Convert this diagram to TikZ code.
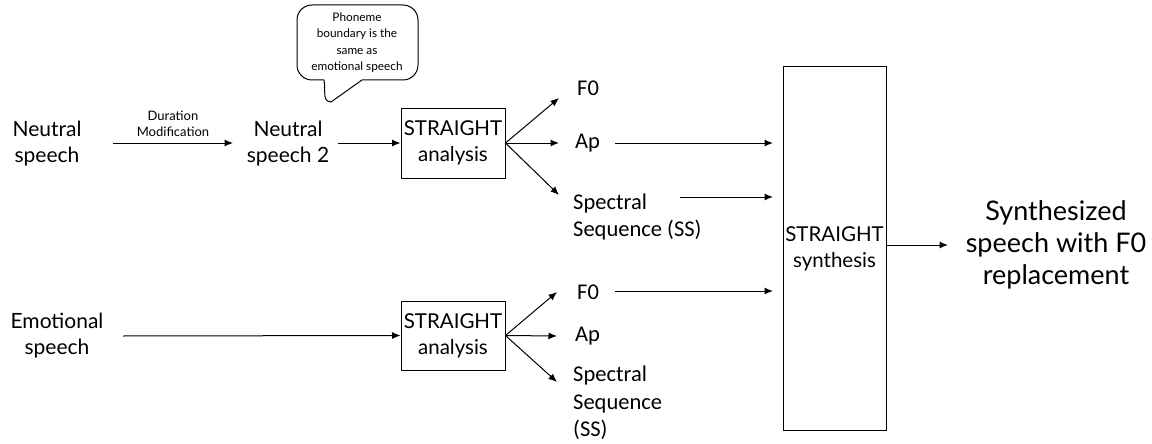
\documentclass[tikz,border=0pt]{standalone}
\usepackage{fontspec}
\setmainfont{Lato}
\newfontfamily\cfont{Carlito}
\usetikzlibrary{arrows.meta}
\begin{document}
\begin{tikzpicture}[x=1pt,y=-1pt,
  arr/.style={-{Latex[length=8.5pt,width=7pt]}, line width=1pt},
  lbl/.style={inner sep=0pt, align=center, font=\fontsize{21}{26}\selectfont},
  sig/.style={inner sep=0pt, align=left, anchor=west, font=\cfont\fontsize{22.5}{26.5}\selectfont},
  boxn/.style={draw, line width=1pt, inner sep=0pt, align=center, font=\fontsize{20.5}{26}\selectfont}]
\useasboundingbox (0,0) rectangle (1152,444);

% top row
\node[lbl] (ns) at (47,144) {Neutral\\speech};
\node[lbl, font=\fontsize{13}{16}\selectfont] (dm) at (173,124) {Duration\\Modification};
\node[lbl] (ns2) at (288,144) {Neutral\\speech 2};
\node[boxn, minimum width=104pt, minimum height=70pt] (a1) at (453,143) {STRAIGHT\\analysis};
\node[sig] (f01) at (577,88) {F0};
\node[sig] (ap1) at (575,143) {Ap};
\node[sig] (ss1) at (573,217) {Spectral\\Sequence (SS)};

% bubble
\node[lbl, font=\fontsize{11.8}{16.4}\selectfont] (bub) at (357,42.5) {Phoneme\\boundary is the\\same as\\emotional speech};
\draw[line width=1pt, rounded corners=15pt] (362,80) -- (418,80) -- (418,5) -- (297,5) -- (297,80) -- (324,80);
\draw[line width=1pt] (324,80) .. controls (326,93) and (322,101) .. (331,102) -- (362,80);

% bottom row
\node[lbl] (es) at (57,336) {Emotional\\speech};
\node[boxn, minimum width=104pt, minimum height=69pt] (a2) at (453,335.5) {STRAIGHT\\analysis};
\node[sig] (f02) at (577,292) {F0};
\node[sig] (ap2) at (575,336) {Ap};
\node[sig, font=\cfont\fontsize{22.5}{27.5}\selectfont] (ss2) at (573,403) {Spectral\\Sequence\\(SS)};

% synthesis
\node[boxn, minimum width=103pt, minimum height=363pt] (syn) at (834.5,248.5) {STRAIGHT\\synthesis};
\node[lbl, font=\fontsize{27}{32}\selectfont] (out) at (1056,245) {Synthesized\\speech with F0\\replacement};

% coordinates
\coordinate (dmS) at (113,143);
\coordinate (esS) at (123,336);
\coordinate (t1) at (559,98);
\coordinate (t2) at (559,143);
\coordinate (t3) at (559,195);
\coordinate (b1) at (557,292);
\coordinate (b2) at (557,336);
\coordinate (b3) at (557,382);
\coordinate (apS) at (615,143);
\coordinate (ssS) at (680,197);
\coordinate (f0S) at (615,291);
\coordinate (inAp) at (773,143);
\coordinate (inSS) at (773,197);
\coordinate (inF0) at (773,291);
\coordinate (outE) at (948,245);

% connectors
\draw[arr] (dmS) -- (233,143);
\draw[arr] (338,143) -- (a1.west);
\draw[arr] (a1.east) -- (t1);
\draw[arr] (a1.east) -- (t2);
\draw[arr] (a1.east) -- (t3);
\draw[arr] (esS) -- (a2.west);
\draw[arr] (a2.east) -- (b1);
\draw[arr] (a2.east) -- (b2);
\draw[arr] (a2.east) -- (b3);
\draw[arr] (apS) -- (inAp);
\draw[arr] (ssS) -- (inSS);
\draw[arr] (f0S) -- (inF0);
\draw[arr] (syn.east |- outE) -- (outE);
\end{tikzpicture}
\end{document}
